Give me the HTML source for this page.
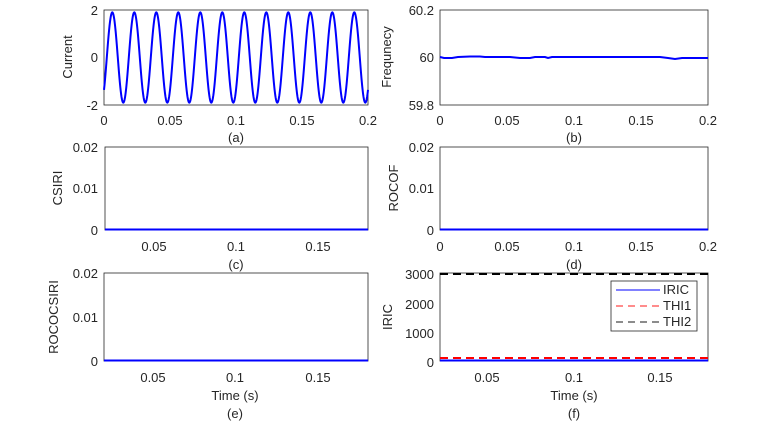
<!DOCTYPE html>
<html><head><style>body{margin:0;background:#fff}svg{display:block}text{font-family:"Liberation Sans",sans-serif;fill:#262626;font-size:13px}</style></head>
<body>
<svg width="762" height="433" xmlns="http://www.w3.org/2000/svg">
<g id="a">
<rect x="104" y="10" width="264" height="95" fill="#fff" stroke="#262626" stroke-width="0.8"/>
<path id="sine" fill="none" stroke="#0000ff" stroke-width="2"/>
<g text-anchor="middle"><text x="104" y="125">0</text><text x="170" y="125">0.05</text><text x="236" y="125">0.1</text><text x="302" y="125">0.15</text><text x="368" y="125">0.2</text><text x="236" y="142">(a)</text></g>
<g text-anchor="end"><text x="98" y="15">2</text><text x="98" y="62">0</text><text x="98" y="110">-2</text></g>
<text transform="translate(72,57) rotate(-90)" text-anchor="middle">Current</text>
</g>
<g>
<rect x="440" y="10" width="268" height="95" fill="#fff" stroke="#262626" stroke-width="0.8"/>
<path d="M440 57 L444 58 L452 58 L458 57 L470 56.5 L480 56.5 L485 57 L510 57 L520 58 L530 58 L535 57 L545 57 L548 58 L552 57 L590 57 L600 57 L615 57 L620 57 L640 57 L660 57 L668 58 L675 59 L682 58 L690 58 L708 58" fill="none" stroke="#0000ff" stroke-width="2"/>
<g text-anchor="middle"><text x="440" y="125">0</text><text x="507" y="125">0.05</text><text x="574" y="125">0.1</text><text x="641" y="125">0.15</text><text x="708" y="125">0.2</text><text x="574" y="142">(b)</text></g>
<g text-anchor="end"><text x="434" y="15">60.2</text><text x="434" y="62">60</text><text x="434" y="110">59.8</text></g>
<text transform="translate(391,57) rotate(-90)" text-anchor="middle">Frequnecy</text>
</g>
<g>
<rect x="105" y="147" width="263" height="83" fill="#fff" stroke="#262626" stroke-width="0.8"/>
<line x1="105" y1="229.5" x2="368" y2="229.5" stroke="#0000ff" stroke-width="2"/>
<g text-anchor="middle"><text x="154" y="251">0.05</text><text x="236" y="251">0.1</text><text x="318" y="251">0.15</text><text x="236" y="269">(c)</text></g>
<g text-anchor="end"><text x="98" y="152">0.02</text><text x="98" y="193">0.01</text><text x="98" y="235">0</text></g>
<text transform="translate(62,188) rotate(-90)" text-anchor="middle">CSIRI</text>
</g>
<g>
<rect x="440" y="147" width="268" height="83" fill="#fff" stroke="#262626" stroke-width="0.8"/>
<line x1="440" y1="229.5" x2="708" y2="229.5" stroke="#0000ff" stroke-width="2"/>
<g text-anchor="middle"><text x="440" y="251">0</text><text x="507" y="251">0.05</text><text x="574" y="251">0.1</text><text x="641" y="251">0.15</text><text x="708" y="251">0.2</text><text x="574" y="269">(d)</text></g>
<g text-anchor="end"><text x="434" y="152">0.02</text><text x="434" y="193">0.01</text><text x="434" y="235">0</text></g>
<text transform="translate(398,188) rotate(-90)" text-anchor="middle">ROCOF</text>
</g>
<g>
<rect x="104" y="273" width="264" height="88" fill="#fff" stroke="#262626" stroke-width="0.8"/>
<line x1="104" y1="360.5" x2="368" y2="360.5" stroke="#0000ff" stroke-width="2"/>
<g text-anchor="middle"><text x="153" y="382">0.05</text><text x="235" y="382">0.1</text><text x="318" y="382">0.15</text><text x="235" y="400">Time (s)</text><text x="235" y="418">(e)</text></g>
<g text-anchor="end"><text x="98" y="278">0.02</text><text x="98" y="322">0.01</text><text x="98" y="366">0</text></g>
<text transform="translate(58,317) rotate(-90)" text-anchor="middle">ROCOCSIRI</text>
</g>
<g>
<rect x="440" y="273" width="268" height="88" fill="#fff" stroke="#262626" stroke-width="0.8"/>
<line x1="440" y1="274" x2="708" y2="274" stroke="#000" stroke-width="2" stroke-dasharray="8,5"/>
<line x1="440" y1="358" x2="708" y2="358" stroke="#ff0000" stroke-width="2" stroke-dasharray="8,5"/>
<line x1="440" y1="360.5" x2="708" y2="360.5" stroke="#0000ff" stroke-width="2"/>
<g text-anchor="middle"><text x="487" y="382">0.05</text><text x="574" y="382">0.1</text><text x="660" y="382">0.15</text><text x="574" y="400">Time (s)</text><text x="574" y="418">(f)</text></g>
<g text-anchor="end"><text x="434" y="279">3000</text><text x="434" y="309">2000</text><text x="434" y="338">1000</text><text x="434" y="367">0</text></g>
<text transform="translate(392,317) rotate(-90)" text-anchor="middle">IRIC</text>
<rect x="611" y="281" width="86" height="50" fill="#fff" stroke="#262626" stroke-width="0.8"/>
<line x1="616" y1="290" x2="660" y2="290" stroke="#0000ff" stroke-width="1"/>
<line x1="616" y1="306" x2="660" y2="306" stroke="#ff6666" stroke-width="1.5" stroke-dasharray="7,5"/>
<line x1="616" y1="322" x2="660" y2="322" stroke="#666" stroke-width="1.5" stroke-dasharray="7,5"/>
<g style="font-size:12px"><text x="663" y="294">IRIC</text><text x="663" y="310">THI1</text><text x="663" y="326">THI2</text></g>
</g>
</svg>
<script>
var d="";for(var i=0;i<=1000;i++){var t=0.2*i/1000;var x=104+264*t/0.2;var v=1.9*Math.sin(2*Math.PI*60*t-0.8);var y=57.5-v*23.75;d+=(i?"L":"M")+x.toFixed(2)+" "+y.toFixed(2);}
document.getElementById("sine").setAttribute("d",d);
</script>
</body></html>
